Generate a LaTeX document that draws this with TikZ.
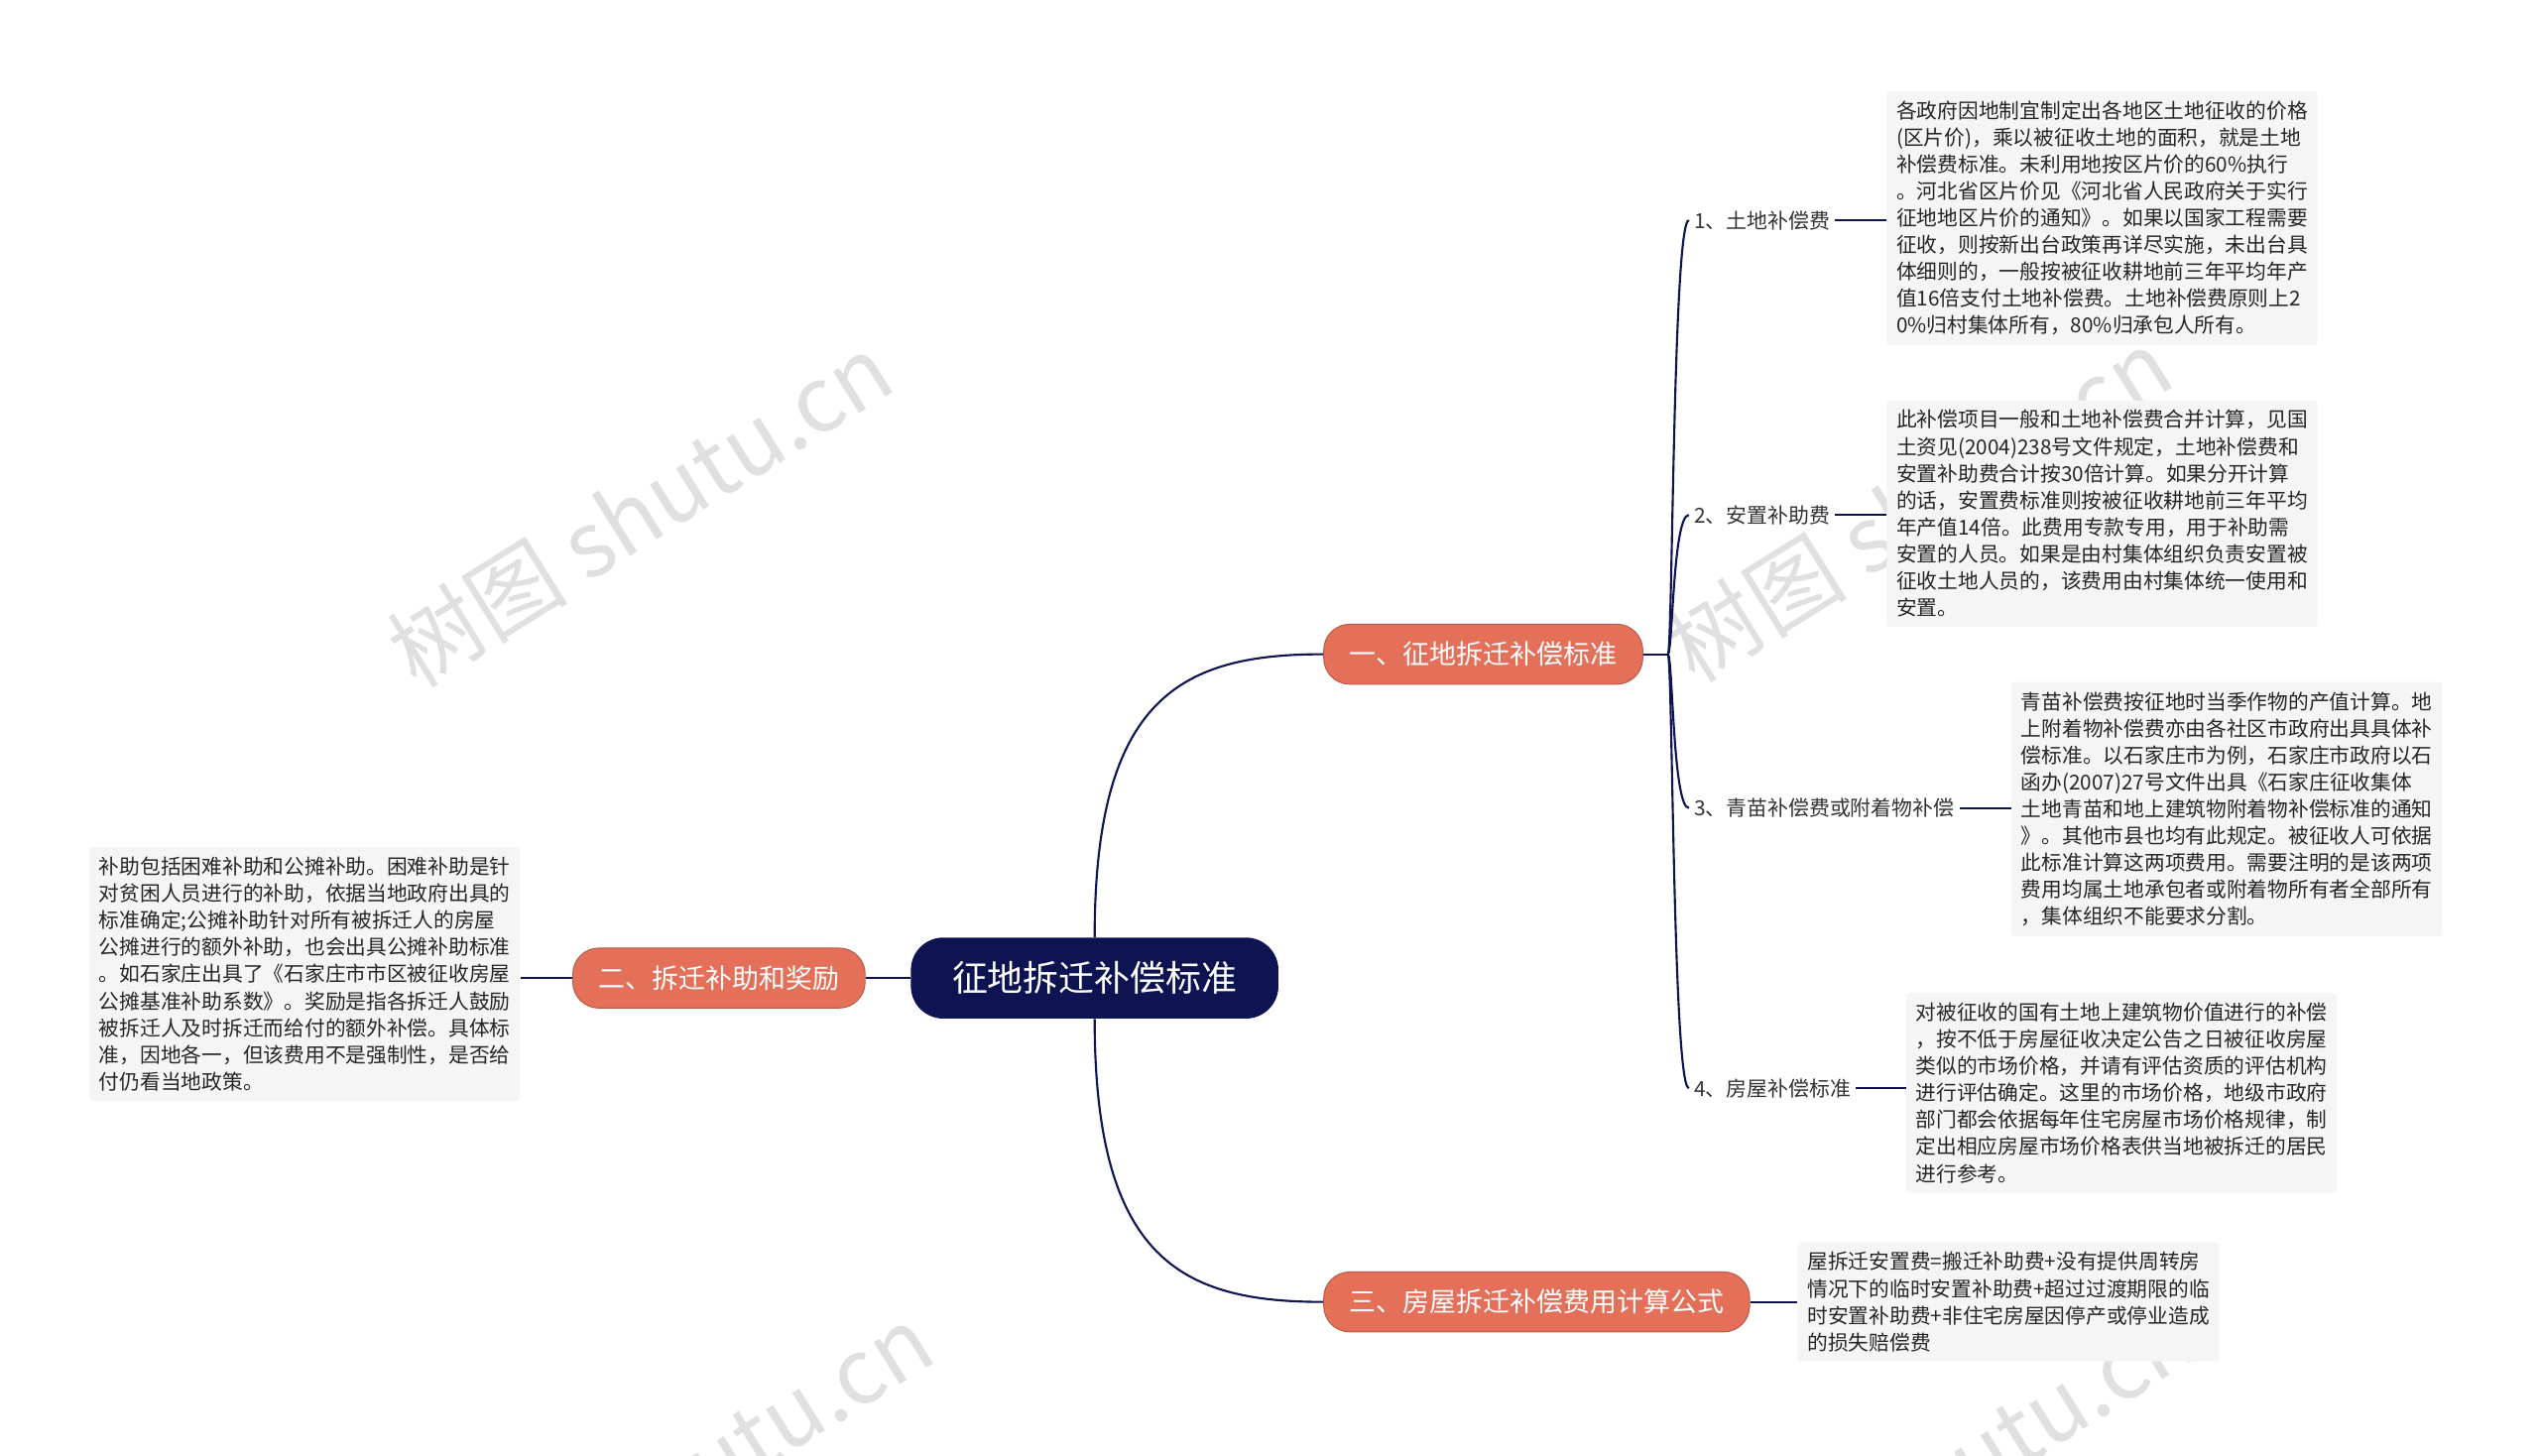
\documentclass[tikz,border=0pt]{standalone}
\usepackage{fontspec}
\setmainfont{Noto Sans CJK SC}
\begin{document}
\begin{tikzpicture}[x=1pt,y=-1pt,
  ln/.style={draw=navy,line width=1.3pt},
  br/.style={fill=salmon,draw=salmon!80!black,line width=0.6pt,rounded corners=16pt,text=white,font=\fontsize{16.5}{18}\selectfont,minimum height=37pt,inner xsep=16pt},
  lf/.style={font=\fontsize{12.8}{15}\selectfont,text=black!80,inner xsep=3pt},
  tb/.style={fill=black!4,rounded corners=2pt,font=\fontsize{12.7}{16.6}\selectfont,text=black!85,align=left,inner sep=6pt,anchor=north west},
  wm/.style={font=\fontsize{56}{56}\selectfont,text=black!12,rotate=32}]
\definecolor{navy}{HTML}{0E1452}
\definecolor{salmon}{HTML}{E4705A}
\useasboundingbox (0,0) rectangle (1568,899);
\begin{scope}
\clip (0,0) rectangle (1568,899);
\node[wm] (w1) at (395,315) {树图 shutu.cn};
\node[wm] (w2) at (1185,312) {树图 shutu.cn};
\node[wm] (w3) at (420,915) {树图 shutu.cn};
\node[wm] (w4) at (1200,912) {树图 shutu.cn};
\end{scope}

\node[fill=navy,rounded corners=20pt,text=white,font=\fontsize{22}{24}\selectfont,minimum width=227pt,minimum height=50pt] (c) at (676,604) {征地拆迁补偿标准};
\node[br] (b1) at (916,404) {一、征地拆迁补偿标准};
\node[br] (b2) at (444,604) {二、拆迁补助和奖励};
\node[br] (b3) at (949,804) {三、房屋拆迁补偿费用计算公式};

\draw[ln] (c.north) .. controls (676,430) and (730,404) .. (b1.west);
\draw[ln] (c.south) .. controls (676,778) and (730,804) .. (b3.west);
\draw[ln] (c.west) -- (b2.east);

\node[lf,anchor=west] (l1) at (1043,136) {1、土地补偿费};
\node[lf,anchor=west] (l2) at (1043,318) {2、安置补助费};
\node[lf,anchor=west] (l3) at (1043,499) {3、青苗补偿费或附着物补偿};
\node[lf,anchor=west] (l4) at (1043,672) {4、房屋补偿标准};
\coordinate (f) at (1030,404);
\coordinate (g) at (1033,404);
\draw[ln] (b1.east) -- (f);
\foreach \l in {l1,l2,l3,l4}
  \draw[ln] (f) .. controls (g) and (g |- \l.west) .. (\l.west);

\node[tb] (t1) at (1165,56) {各政府因地制宜制定出各地区土地征收的价格\\(区片价)，乘以被征收土地的面积，就是土地\\补偿费标准。未利用地按区片价的60\%执行\\。河北省区片价见《河北省人民政府关于实行\\征地地区片价的通知》。如果以国家工程需要\\征收，则按新出台政策再详尽实施，未出台具\\体细则的，一般按被征收耕地前三年平均年产\\值16倍支付土地补偿费。土地补偿费原则上2\\0\%归村集体所有，80\%归承包人所有。};
\node[tb] (t2) at (1165,247) {此补偿项目一般和土地补偿费合并计算，见国\\土资见(2004)238号文件规定，土地补偿费和\\安置补助费合计按30倍计算。如果分开计算\\的话，安置费标准则按被征收耕地前三年平均\\年产值14倍。此费用专款专用，用于补助需\\安置的人员。如果是由村集体组织负责安置被\\征收土地人员的，该费用由村集体统一使用和\\安置。};
\node[tb] (t3) at (1242,421) {青苗补偿费按征地时当季作物的产值计算。地\\上附着物补偿费亦由各社区市政府出具具体补\\偿标准。以石家庄市为例，石家庄市政府以石\\函办(2007)27号文件出具《石家庄征收集体\\土地青苗和地上建筑物附着物补偿标准的通知\\》。其他市县也均有此规定。被征收人可依据\\此标准计算这两项费用。需要注明的是该两项\\费用均属土地承包者或附着物所有者全部所有\\，集体组织不能要求分割。};
\node[tb] (t4) at (1177,613) {对被征收的国有土地上建筑物价值进行的补偿\\，按不低于房屋征收决定公告之日被征收房屋\\类似的市场价格，并请有评估资质的评估机构\\进行评估确定。这里的市场价格，地级市政府\\部门都会依据每年住宅房屋市场价格规律，制\\定出相应房屋市场价格表供当地被拆迁的居民\\进行参考。};
\node[tb] (t5) at (55,523) {补助包括困难补助和公摊补助。困难补助是针\\对贫困人员进行的补助，依据当地政府出具的\\标准确定;公摊补助针对所有被拆迁人的房屋\\公摊进行的额外补助，也会出具公摊补助标准\\。如石家庄出具了《石家庄市市区被征收房屋\\公摊基准补助系数》。奖励是指各拆迁人鼓励\\被拆迁人及时拆迁而给付的额外补偿。具体标\\准，因地各一，但该费用不是强制性，是否给\\付仍看当地政策。};
\node[tb] (t6) at (1110,767) {屋拆迁安置费=搬迁补助费+没有提供周转房\\情况下的临时安置补助费+超过过渡期限的临\\时安置补助费+非住宅房屋因停产或停业造成\\的损失赔偿费};

\draw[ln] (l1.east) -- (t1.west|-l1.east);
\draw[ln] (l2.east) -- (t2.west|-l2.east);
\draw[ln] (l3.east) -- (t3.west|-l3.east);
\draw[ln] (l4.east) -- (t4.west|-l4.east);
\draw[ln] (b2.west) -- (t5.east|-b2.west);
\draw[ln] (b3.east) -- (t6.west|-b3.east);
\end{tikzpicture}
\end{document}
